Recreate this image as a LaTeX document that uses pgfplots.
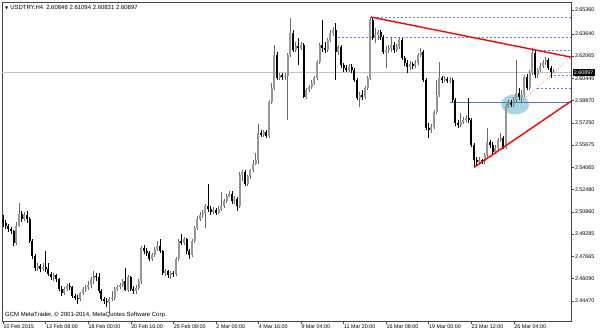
\documentclass[border=0pt]{standalone}
\usepackage{pgfplots}
\pgfplotsset{compat=1.18}
\usepackage{pgfplotstable}
\usepackage{fontspec}
\setmainfont{Liberation Sans}
\newfontfamily\dejavu{DejaVu Sans}
\definecolor{bullc}{RGB}{150,150,150}
\definecolor{bullw}{RGB}{105,105,105}
\definecolor{bearc}{RGB}{0,0,0}
\definecolor{dotblue}{RGB}{100,120,250}
\definecolor{lineblue}{RGB}{85,115,205}
\definecolor{ellc}{RGB}{160,215,225}
\definecolor{trendred}{RGB}{255,0,0}
\definecolor{bidgray}{RGB}{195,195,195}
\definecolor{framec}{RGB}{70,70,70}

\pgfplotstableread{
i o h l c
0 2.5038 2.5067 2.4981 2.5010
1 2.5010 2.5031 2.4966 2.4988
2 2.4988 2.5002 2.4945 2.4966
3 2.4966 2.4981 2.4930 2.4952
4 2.4952 2.4959 2.4844 2.4866
5 2.4866 2.5017 2.4851 2.4988
6 2.4988 2.5154 2.4981 2.5074
7 2.5074 2.5096 2.5017 2.5038
8 2.5038 2.5089 2.5024 2.5067
9 2.5067 2.5096 2.5010 2.5038
10 2.5038 2.5053 2.4866 2.4880
11 2.4880 2.4894 2.4750 2.4772
12 2.4772 2.4786 2.4664 2.4686
13 2.4686 2.4722 2.4664 2.4700
14 2.4700 2.4714 2.4657 2.4678
15 2.4678 2.4722 2.4664 2.4693
16 2.4693 2.4808 2.4657 2.4678
17 2.4678 2.4722 2.4628 2.4642
18 2.4642 2.4657 2.4599 2.4621
19 2.4621 2.4650 2.4592 2.4635
20 2.4635 2.4642 2.4585 2.4606
21 2.4606 2.4614 2.4520 2.4534
22 2.4534 2.4556 2.4484 2.4506
23 2.4506 2.4549 2.4491 2.4534
24 2.4534 2.4570 2.4520 2.4556
25 2.4556 2.4578 2.4527 2.4549
26 2.4549 2.4556 2.4470 2.4484
27 2.4484 2.4498 2.4455 2.4470
28 2.4470 2.4491 2.4426 2.4462
29 2.4462 2.4513 2.4448 2.4506
30 2.4506 2.4549 2.4491 2.4534
31 2.4534 2.4563 2.4513 2.4549
32 2.4549 2.4592 2.4527 2.4563
33 2.4563 2.4621 2.4542 2.4606
34 2.4606 2.4664 2.4570 2.4628
35 2.4628 2.4650 2.4592 2.4621
36 2.4621 2.4650 2.4506 2.4520
37 2.4520 2.4534 2.4448 2.4462
38 2.4462 2.4477 2.4426 2.4448
39 2.4448 2.4470 2.4405 2.4441
40 2.4441 2.4477 2.4362 2.4462
41 2.4462 2.4520 2.4448 2.4470
42 2.4470 2.4549 2.4455 2.4534
43 2.4534 2.4563 2.4520 2.4549
44 2.4549 2.4578 2.4534 2.4563
45 2.4563 2.4606 2.4549 2.4592
46 2.4592 2.4686 2.4520 2.4527
47 2.4527 2.4635 2.4513 2.4621
48 2.4621 2.4628 2.4520 2.4534
49 2.4534 2.4556 2.4498 2.4520
50 2.4520 2.4563 2.4498 2.4542
51 2.4542 2.4606 2.4527 2.4592
52 2.4592 2.4844 2.4570 2.4830
53 2.4830 2.4851 2.4786 2.4808
54 2.4808 2.4830 2.4772 2.4794
55 2.4794 2.4808 2.4736 2.4750
56 2.4750 2.4794 2.4736 2.4779
57 2.4779 2.4837 2.4765 2.4822
58 2.4822 2.4880 2.4808 2.4844
59 2.4844 2.4894 2.4794 2.4808
60 2.4808 2.4815 2.4635 2.4650
61 2.4650 2.4678 2.4628 2.4664
62 2.4664 2.4671 2.4614 2.4635
63 2.4635 2.4664 2.4606 2.4650
64 2.4650 2.4664 2.4621 2.4642
65 2.4642 2.4765 2.4628 2.4750
66 2.4750 2.4894 2.4736 2.4880
67 2.4880 2.4930 2.4851 2.4866
68 2.4866 2.4909 2.4851 2.4894
69 2.4894 2.4902 2.4786 2.4808
70 2.4808 2.4822 2.4750 2.4779
71 2.4779 2.4894 2.4765 2.4880
72 2.4880 2.4988 2.4866 2.4974
73 2.4974 2.5060 2.4959 2.5038
74 2.5038 2.5089 2.5024 2.5067
75 2.5067 2.5103 2.5046 2.5082
76 2.5082 2.5146 2.4974 2.5132
77 2.5132 2.5290 2.5089 2.5110
78 2.5110 2.5132 2.5067 2.5089
79 2.5089 2.5125 2.5074 2.5103
80 2.5103 2.5118 2.5067 2.5082
81 2.5082 2.5132 2.5074 2.5110
82 2.5110 2.5233 2.5096 2.5132
83 2.5132 2.5182 2.5118 2.5168
84 2.5168 2.5218 2.5154 2.5204
85 2.5204 2.5240 2.5190 2.5218
86 2.5218 2.5240 2.5146 2.5168
87 2.5168 2.5204 2.5146 2.5182
88 2.5182 2.5197 2.5096 2.5132
89 2.5132 2.5370 2.5118 2.5348
90 2.5348 2.5384 2.5312 2.5370
91 2.5370 2.5384 2.5276 2.5290
92 2.5290 2.5355 2.5269 2.5341
93 2.5341 2.5398 2.5326 2.5384
94 2.5384 2.5456 2.5370 2.5434
95 2.5434 2.5506 2.5420 2.5456
96 2.5456 2.5715 2.5434 2.5650
97 2.5650 2.5672 2.5622 2.5636
98 2.5636 2.5672 2.5622 2.5658
99 2.5658 2.5672 2.5614 2.5629
100 2.5629 2.5888 2.5614 2.5874
101 2.5874 2.6010 2.5859 2.5974
102 2.5974 2.6284 2.5960 2.6212
103 2.6212 2.6234 2.6032 2.6046
104 2.6046 2.6082 2.6032 2.6068
105 2.6068 2.6082 2.6032 2.6054
106 2.6054 2.6082 2.6032 2.6061
107 2.6061 2.6226 2.5744 2.6212
108 2.6212 2.6478 2.6198 2.6370
109 2.6370 2.6392 2.6234 2.6248
110 2.6248 2.6306 2.6234 2.6277
111 2.6277 2.6334 2.6140 2.6262
112 2.6262 2.6306 2.6248 2.6284
113 2.6284 2.6298 2.5902 2.5910
114 2.5910 2.5974 2.5895 2.5960
115 2.5960 2.5996 2.5946 2.5982
116 2.5982 2.6032 2.5967 2.6010
117 2.6010 2.6061 2.5996 2.6046
118 2.6046 2.6176 2.6032 2.6162
119 2.6162 2.6298 2.6147 2.6284
120 2.6284 2.6464 2.6234 2.6262
121 2.6262 2.6306 2.6226 2.6248
122 2.6248 2.6334 2.6234 2.6320
123 2.6320 2.6392 2.6306 2.6370
124 2.6370 2.6414 2.6349 2.6392
125 2.6392 2.6442 2.6032 2.6234
126 2.6234 2.6284 2.6212 2.6270
127 2.6270 2.6284 2.6118 2.6140
128 2.6140 2.6154 2.6090 2.6118
129 2.6118 2.6140 2.6090 2.6104
130 2.6104 2.6147 2.6090 2.6126
131 2.6126 2.6147 2.6082 2.6104
132 2.6104 2.6118 2.6018 2.6032
133 2.6032 2.6046 2.5888 2.5902
134 2.5902 2.5946 2.5838 2.5924
135 2.5924 2.5960 2.5888 2.5910
136 2.5910 2.5989 2.5895 2.5974
137 2.5974 2.6061 2.5960 2.6046
138 2.6046 2.6486 2.6032 2.6464
139 2.6464 2.6478 2.6320 2.6334
140 2.6334 2.6406 2.6298 2.6356
141 2.6356 2.6392 2.6320 2.6378
142 2.6378 2.6392 2.6320 2.6342
143 2.6342 2.6356 2.6219 2.6234
144 2.6234 2.6277 2.6118 2.6248
145 2.6248 2.6284 2.6226 2.6262
146 2.6262 2.6342 2.6234 2.6284
147 2.6284 2.6306 2.6226 2.6248
148 2.6248 2.6291 2.6234 2.6270
149 2.6270 2.6334 2.6255 2.6320
150 2.6320 2.6334 2.6176 2.6190
151 2.6190 2.6205 2.6133 2.6154
152 2.6154 2.6176 2.6082 2.6126
153 2.6126 2.6169 2.6104 2.6147
154 2.6147 2.6162 2.6111 2.6133
155 2.6133 2.6176 2.6118 2.6154
156 2.6154 2.6226 2.6140 2.6212
157 2.6212 2.6262 2.6198 2.6234
158 2.6234 2.6248 2.6018 2.6032
159 2.6032 2.6046 2.5672 2.5686
160 2.5686 2.5722 2.5614 2.5672
161 2.5672 2.5715 2.5650 2.5694
162 2.5694 2.5816 2.5679 2.5802
163 2.5802 2.6032 2.5787 2.5924
164 2.5924 2.6162 2.5910 2.6046
165 2.6046 2.6061 2.6010 2.6032
166 2.6032 2.6061 2.6018 2.6039
167 2.6039 2.6054 2.6010 2.6025
168 2.6025 2.6054 2.6010 2.6032
169 2.6032 2.6046 2.5874 2.5888
170 2.5888 2.5902 2.5701 2.5722
171 2.5722 2.5744 2.5686 2.5708
172 2.5708 2.5794 2.5694 2.5730
173 2.5730 2.5766 2.5715 2.5744
174 2.5744 2.5780 2.5730 2.5758
175 2.5758 2.5902 2.5722 2.5744
176 2.5744 2.5758 2.5550 2.5564
177 2.5564 2.5578 2.5406 2.5456
178 2.5456 2.5478 2.5420 2.5442
179 2.5442 2.5478 2.5427 2.5456
180 2.5456 2.5470 2.5427 2.5449
181 2.5449 2.5506 2.5434 2.5492
182 2.5492 2.5686 2.5478 2.5586
183 2.5586 2.5600 2.5542 2.5564
184 2.5564 2.5586 2.5499 2.5514
185 2.5514 2.5564 2.5499 2.5542
186 2.5542 2.5614 2.5528 2.5600
187 2.5600 2.5650 2.5586 2.5614
188 2.5614 2.5629 2.5535 2.5550
189 2.5550 2.5859 2.5535 2.5845
190 2.5845 2.5888 2.5830 2.5866
191 2.5866 2.5888 2.5838 2.5852
192 2.5852 2.5910 2.5838 2.5888
193 2.5888 2.6176 2.5874 2.5938
194 2.5938 2.5974 2.5888 2.5910
195 2.5910 2.5960 2.5866 2.5924
196 2.5924 2.6068 2.5910 2.6054
197 2.6054 2.6075 2.5960 2.5974
198 2.5974 2.6104 2.5960 2.6082
199 2.6082 2.6262 2.6068 2.6226
200 2.6226 2.6248 2.6046 2.6068
201 2.6068 2.6118 2.6046 2.6104
202 2.6104 2.6154 2.6090 2.6133
203 2.6133 2.6176 2.6118 2.6162
204 2.6162 2.6198 2.6140 2.6176
205 2.6176 2.6190 2.6104 2.6118
206 2.6118 2.6133 2.6046 2.6090
207 2.60846 2.61094 2.60831 2.60897
}\candles

\begin{document}
\begin{tikzpicture}
\useasboundingbox (-2bp,-12bp) rectangle (598bp,321bp);
\begin{axis}[
  scale only axis, width=569bp, height=319bp,
  xmin=-0.4, xmax=213.5, ymin=2.4303, ymax=2.6594,
  axis line style={draw=framec, line width=0.7bp},
  xtick pos=bottom, ytick pos=right, yticklabel pos=right,
  tick align=outside, major tick length=3bp,
  tick style={draw=framec, line width=0.5bp},
  xtick={0,16,32,48,64,80,96,112,128,144,160,176,192},
  xticklabels={10 Feb 2015,13 Feb 08:00,18 Feb 00:00,20 Feb 16:00,25 Feb 08:00,2 Mar 00:00,4 Mar 16:00,9 Mar 04:00,11 Mar 20:00,16 Mar 08:00,19 Mar 00:00,23 Mar 12:00,26 Mar 04:00},
  ytick={2.42895,2.44470,2.46090,2.47665,2.49285,2.50860,2.52480,2.54065,2.55675,2.57250,2.58870,2.60445,2.62065,2.63640,2.65360},
  yticklabels={2.42895,2.44470,2.46090,2.47665,2.49285,2.50860,2.52480,2.54065,2.55675,2.57250,2.58870,2.60445,2.62065,2.63640,2.65360},
  xticklabel style={anchor=north west, font=\fontsize{5.4}{6}\selectfont, inner sep=0.8bp, xshift=-0.5bp},
  yticklabel style={anchor=west, font=\fontsize{5.4}{6}\selectfont, inner sep=0.8bp},
  clip=true,
]
% bid line
\addplot[bidgray, line width=0.6bp, forget plot] coordinates {(-0.4,2.60897) (213.5,2.60897)};
% highlight ellipse
\fill[ellc] (axis cs:192.5,2.5859) ellipse [x radius=14bp, y radius=10bp];
% horizontal levels
\addplot[dotblue, line width=0.75bp, dash pattern=on 2bp off 2bp, forget plot] coordinates {(139,2.6486) (213.5,2.6486)};
\addplot[dotblue, line width=0.75bp, dash pattern=on 2bp off 2bp, forget plot] coordinates {(126,2.6342) (213.5,2.6342)};
\addplot[dotblue, line width=0.75bp, dash pattern=on 2bp off 2bp, forget plot] coordinates {(199,2.6248) (213.5,2.6248)};
\addplot[dotblue, line width=0.75bp, dash pattern=on 2bp off 2bp, forget plot] coordinates {(205.6,2.6068) (213.5,2.6068)};
\addplot[dotblue, line width=0.75bp, dash pattern=on 2bp off 2bp, forget plot] coordinates {(200.8,2.5974) (213.5,2.5974)};
\addplot[lineblue, line width=0.8bp, forget plot] coordinates {(168,2.5870) (213.5,2.5870)};
% bull candles: wick and body
\addplot[bullw, line width=0.65bp, mark=none, forget plot,
  restrict expr to domain={\thisrow{c}-\thisrow{o}}{0:1},
  quiver={u=0, v={\thisrow{h}-\thisrow{l}}}]
  table[x=i, y=l] {\candles};
\addplot[bullc, line width=2bp, mark=none, forget plot,
  restrict expr to domain={\thisrow{c}-\thisrow{o}}{0:1},
  quiver={u=0, v={max(\thisrow{c}-\thisrow{o},0.0003)}}]
  table[x=i, y=o] {\candles};
% bear candles: wick and body
\addplot[bearc, line width=0.65bp, mark=none, forget plot,
  restrict expr to domain={\thisrow{c}-\thisrow{o}}{-1:-0.000001},
  quiver={u=0, v={\thisrow{h}-\thisrow{l}}}]
  table[x=i, y=l] {\candles};
\addplot[bearc, line width=2bp, mark=none, forget plot,
  restrict expr to domain={\thisrow{c}-\thisrow{o}}{-1:-0.000001},
  quiver={u=0, v={\thisrow{c}-\thisrow{o}}}]
  table[x=i, y=o] {\candles};
% trend lines
\addplot[trendred, line width=1.4bp, forget plot] coordinates {(138.3,2.6486) (213.5,2.6198)};
\addplot[trendred, line width=1.4bp, forget plot] coordinates {(177,2.5406) (213.5,2.5881)};
\addplot[trendred, line width=0.5bp, dotted, forget plot] coordinates {(195.5,2.5888) (213.5,2.6198)};
\coordinate (cp) at (axis cs:213.5,2.60897);
\node[anchor=west, inner sep=0pt, font=\fontsize{6}{7}\selectfont] at (rel axis cs:0,1) [xshift=3bp, yshift=-5.5bp] {{\dejavu\fontsize{4}{5}\selectfont ▼}\hspace{2bp}USDTRY,H4\hspace{3bp}2.60846 2.61094 2.60831 2.60897};
\node[anchor=west, inner sep=0pt, font=\fontsize{6}{7}\selectfont] at (rel axis cs:0,0) [xshift=3bp, yshift=6.5bp] {GCM MetaTrader, © 2001-2014, MetaQuotes Software Corp.};
\end{axis}
\node[anchor=west, fill=black, text=white, inner xsep=1.2bp, inner ysep=1.5bp, font=\fontsize{5.4}{6}\selectfont, xshift=1.5bp] at (cp) {2.60897};
\end{tikzpicture}
\end{document}
